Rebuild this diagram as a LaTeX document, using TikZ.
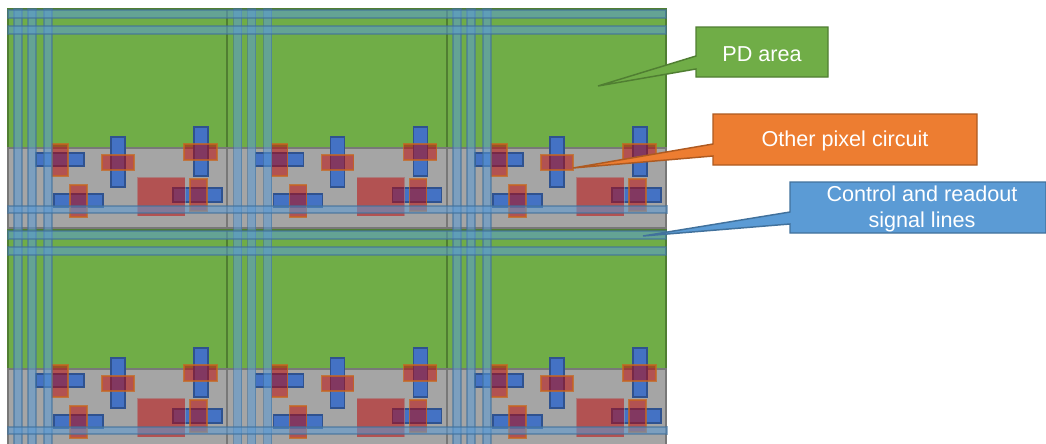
\documentclass[tikz,border=0pt]{standalone}
\usepackage{fontspec}
\setmainfont{Liberation Sans}
\definecolor{pdgreen}{HTML}{70AD47}
\definecolor{pdedge}{HTML}{507E32}
\definecolor{cellgray}{HTML}{A5A5A5}
\definecolor{celledge}{HTML}{787878}
\definecolor{gateblue}{HTML}{4472C4}
\definecolor{gateedge}{HTML}{2F528F}
\definecolor{difred}{HTML}{C00000}
\definecolor{diforange}{HTML}{C8651F}
\definecolor{calloutorange}{HTML}{ED7D31}
\definecolor{orangeedge}{HTML}{AE5A21}
\definecolor{lineblue}{HTML}{5B9BD5}
\definecolor{lineedge}{HTML}{41719C}
\tikzset{
  pdarea/.style={fill=pdgreen,draw=pdedge,line width=1.1pt},
  circuit/.style={fill=cellgray,draw=celledge,line width=1.1pt},
  gatebar/.style={fill=gateblue,draw=gateedge,line width=1.4pt},
  difbar/.style={fill=difred,fill opacity=.5,draw=diforange,draw opacity=.75,line width=1pt},
  bigdif/.style={fill=difred,fill opacity=.5,draw=cellgray,draw opacity=.5,line width=.6pt},
  sigline/.style={fill=lineblue,fill opacity=.55,draw=lineedge,draw opacity=.55,line width=1.1pt},
  greenout/.style={fill=pdgreen,draw=pdedge,line width=1.1pt},
  orangeout/.style={fill=calloutorange,draw=orangeedge,line width=1.1pt},
  blueout/.style={fill=lineblue,draw=lineedge,line width=1.1pt},
  outtext/.style={text=white,font=\fontsize{16.2}{19.5}\selectfont,align=center,inner sep=0pt}
}
\begin{document}
\begin{tikzpicture}[x=0.75pt,y=-0.75pt]
\useasboundingbox (0,0) rectangle (1046,443);
\clip (0,0) rectangle (1046,443);
% cells
\foreach \row in {0,221}{
 \foreach \cx in {0,219.5,439}{
  \begin{scope}[shift={(\cx,\row)}]
   \draw[pdarea] (8,9) rectangle (227,148);
   \draw[circuit] (8,148) rectangle (227,228);
   \draw[gatebar] (36,153) rectangle (84,166);
   \draw[gatebar] (111,137) rectangle (125,187);
   \draw[gatebar] (194,127) rectangle (208,176);
   \draw[gatebar] (54,194) rectangle (103,207);
   \draw[gatebar] (173,188) rectangle (222,202);
   \draw[bigdif] (137,177) rectangle (185,216);
   \draw[difbar] (52,144) rectangle (68,176);
   \draw[difbar] (102,155) rectangle (134,170);
   \draw[difbar] (184,144) rectangle (217,160);
   \draw[difbar] (70,185) rectangle (87,217);
   \draw[difbar] (190,179) rectangle (207,211);
  \end{scope}
 }
}
% vertical signal lines
\foreach \cx in {0,219.5,439}{
 \foreach \vx in {14,28,44}{
  \draw[sigline] ({\cx+\vx},9) rectangle ({\cx+\vx+8},450);
 }
}
% horizontal signal lines
\foreach \row in {0,221}{
  \draw[sigline] (8,10) ++(0,\row) rectangle (666,{18+\row});
  \draw[sigline] (8,26) ++(0,\row) rectangle (666,{34+\row});
  \draw[sigline] (8,206) ++(0,\row) rectangle (667,{213+\row});
}
% call-outs
\draw[greenout] (696,27) -- (828,27) -- (828,77) -- (696,77) -- (696,69) -- (598,86) -- (696,56) -- cycle;
\node[outtext] (pdlabel) at (762,54) {PD area};
\draw[orangeout] (713,114) -- (977,114) -- (977,165) -- (713,165) -- (713,156) -- (573,168) -- (713,144) -- cycle;
\node[outtext] (pixellabel) at (845,141) {Other pixel circuit};
\draw[blueout] (790,182) -- (1046,182) -- (1046,233) -- (790,233) -- (790,224) -- (643,236) -- (790,212) -- cycle;
\node[outtext] (linelabel) at (922,209) {Control and readout\\signal lines};
\end{tikzpicture}
\end{document}
